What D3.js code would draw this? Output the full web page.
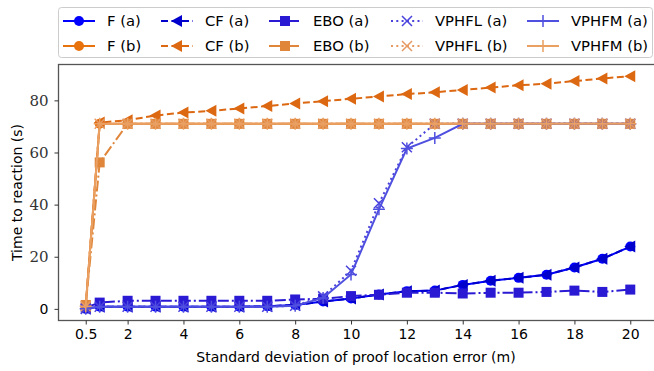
<!DOCTYPE html>
<html>
<meta charset="utf-8">
<style type="text/css">
	body { margin: 0; background: #fff; }
	text { font-family: "DejaVu Sans", sans-serif; font-size: 14px; fill: #000; }
	.legend text { font-size: 14.8px; }
</style>
<svg width="654" height="371"></svg>
<script src="https://d3js.org/d3.v7.min.js"></script>
<script>
	// x positions: proof location error std (m)
	var sigma = [0.5, 1, 2, 3, 4, 5, 6, 7, 8, 9, 10, 11, 12, 13, 14, 15, 16, 17, 18, 19, 20];

	var fA     = [0, 0.8, 0.8, 0.8, 0.8, 0.8, 0.8, 1.0, 1.5, 2.8, 4.0, 5.5, 6.8, 7.0, 9.2, 10.8, 11.9, 13.1, 15.9, 19.2, 23.9];
	var fB     = [1, 71, 71, 71, 71, 71, 71, 71, 71, 71, 71, 71, 71, 71, 71, 71, 71, 71, 71, 71, 71];
	var cfA    = [0, 0.8, 0.8, 0.8, 0.8, 0.8, 0.8, 1.0, 1.5, 2.8, 4.0, 5.5, 6.8, 7.0, 9.2, 10.8, 11.9, 13.1, 15.9, 19.2, 23.9];
	var cfB    = [1, 71.5, 72.4, 74.2, 75.3, 76.0, 76.9, 77.8, 78.8, 79.7, 80.6, 81.5, 82.4, 83.1, 84.0, 84.9, 85.8, 86.4, 87.4, 88.4, 89.3];
	var eboA   = [0.5, 2.4, 3.1, 3.1, 3.1, 3.1, 3.1, 3.1, 3.6, 3.9, 4.9, 5.4, 6.2, 6.2, 5.9, 6.2, 6.2, 6.5, 7.0, 6.5, 7.4];
	var eboB   = [1.5, 56.2, 71, 71, 71, 71, 71, 71, 71, 71, 71, 71, 71, 71, 71, 71, 71, 71, 71, 71, 71];
	var vphflA = [0, 0.8, 0.8, 0.8, 0.8, 0.8, 0.8, 0.8, 1.2, 4.8, 14.6, 40.5, 62.0, 71, 71, 71, 71, 71, 71, 71, 71];
	var vphflB = [1, 71, 71, 71, 71, 71, 71, 71, 71, 71, 71, 71, 71, 71, 71, 71, 71, 71, 71, 71, 71];
	var vphfmA = [0, 0.8, 0.8, 0.8, 0.8, 0.8, 0.8, 0.8, 1.2, 4.2, 13.2, 38.2, 61.5, 65.6, 71, 71, 71, 71, 71, 71, 71];
	var vphfmB = [1, 71, 71, 71, 71, 71, 71, 71, 71, 71, 71, 71, 71, 71, 71, 71, 71, 71, 71, 71, 71];

	var xTicks = [0.5, 2, 4, 6, 8, 10, 12, 14, 16, 18, 20];
	var yTicks = [0, 20, 40, 60, 80];

	// plotting order follows the legend (column-wise)
	var series = [
		{name: 'F (a)',     values: fA,     color: '#0000ff', dash: null,        marker: 'circle'},
		{name: 'F (b)',     values: fB,     color: '#e8720c', dash: null,        marker: 'circle'},
		{name: 'CF (a)',    values: cfA,    color: '#0000cc', dash: '7,3.5',     marker: 'tri'},
		{name: 'CF (b)',    values: cfB,    color: '#dc6812', dash: '7,3.5',     marker: 'tri'},
		{name: 'EBO (a)',   values: eboA,   color: '#2a1ad4', dash: '11,3,2,3',  marker: 'square'},
		{name: 'EBO (b)',   values: eboB,   color: '#e0863a', dash: '11,3,2,3',  marker: 'square'},
		{name: 'VPHFL (a)', values: vphflA, color: '#4a42dc', dash: '2,3.3',     marker: 'x'},
		{name: 'VPHFL (b)', values: vphflB, color: '#e69a62', dash: '2,3.3',     marker: 'x'},
		{name: 'VPHFM (a)', values: vphfmA, color: '#5050e0', dash: null,        marker: 'plus'},
		{name: 'VPHFM (b)', values: vphfmB, color: '#e9a062', dash: null,        marker: 'plus'}
	];

	var svg = d3.select('svg'),
			pLeft = 58.5, pRight = 657.5, pTop = 64.5, pBottom = 320.5;

	var x = d3.scaleLinear().domain([-0.475, 20.975]).range([pLeft, pRight]);
	var y = d3.scaleLinear().domain([-4.465, 93.765]).range([pBottom, pTop]);

	function drawMarker(g, type, color, cx, cy) {
		if (type === 'circle') {
			g.append('circle').attr('cx', cx).attr('cy', cy).attr('r', 5).attr('fill', color);
		} else if (type === 'square') {
			g.append('rect').attr('x', cx - 5).attr('y', cy - 5).attr('width', 10).attr('height', 10).attr('fill', color);
		} else if (type === 'tri') {
			g.append('path').attr('d', 'M' + (cx - 6) + ',' + cy + 'L' + (cx + 5) + ',' + (cy - 6) + 'L' + (cx + 5) + ',' + (cy + 6) + 'Z')
				.attr('fill', color);
		} else if (type === 'x') {
			g.append('path').attr('d', 'M' + (cx - 5) + ',' + (cy - 5) + 'L' + (cx + 5) + ',' + (cy + 5) + 'M' + (cx - 5) + ',' + (cy + 5) + 'L' + (cx + 5) + ',' + (cy - 5))
				.attr('stroke', color).attr('stroke-width', 1.5).attr('fill', 'none');
		} else if (type === 'plus') {
			g.append('path').attr('d', 'M' + (cx - 6) + ',' + cy + 'L' + (cx + 6) + ',' + cy + 'M' + cx + ',' + (cy - 6) + 'L' + cx + ',' + (cy + 6))
				.attr('stroke', color).attr('stroke-width', 1.5).attr('fill', 'none');
		}
	}

	svg.append('clipPath').attr('id', 'clip')
		.append('rect').attr('x', pLeft).attr('y', pTop).attr('width', pRight - pLeft).attr('height', pBottom - pTop);

	var plot = svg.append('g').attr('clip-path', 'url(#clip)');

	var line = d3.line()
			.x((d, i) => x(sigma[i]))
			.y((d) => y(d));

	series.forEach((s) => {
		var g = plot.append('g');
		g.append('path')
			.attr('d', line(s.values))
			.attr('fill', 'none')
			.attr('stroke', s.color)
			.attr('stroke-width', 2)
			.attr('stroke-dasharray', s.dash);
		s.values.forEach((v, i) => drawMarker(g, s.marker, s.color, x(sigma[i]), y(v)));
	});

	// frame
	svg.append('rect')
		.attr('x', pLeft).attr('y', pTop).attr('width', pRight - pLeft).attr('height', pBottom - pTop)
		.attr('fill', 'none').attr('stroke', '#555').attr('stroke-width', 1.3);

	// x axis
	var xAxis = svg.append('g').attr('transform', 'translate(0,' + pBottom + ')')
		.call(d3.axisBottom(x).tickValues(xTicks).tickSize(4).tickPadding(5).tickFormat((d) => d));
	xAxis.select('.domain').remove();
	xAxis.selectAll('text').style('font-size', '14px').style('font-family', '"DejaVu Sans", sans-serif');
	xAxis.selectAll('line').attr('stroke', '#333');

	// y axis (the reference shows 20..80 in a serif face, 0 in sans)
	var yAxis = svg.append('g').attr('transform', 'translate(' + pLeft + ',0)')
		.call(d3.axisLeft(y).tickValues(yTicks).tickSize(4).tickPadding(6));
	yAxis.select('.domain').remove();
	yAxis.selectAll('line').attr('stroke', '#333');
	yAxis.selectAll('text')
		.style('font-size', (d) => d === 0 ? '14px' : '15px')
		.style('font-family', (d) => d === 0 ? '"DejaVu Sans", sans-serif' : '"DejaVu Serif", serif')
		.style('fill', (d) => d === 0 ? '#000' : '#333');

	svg.append('text')
		.attr('x', 356)
		.attr('y', 362)
		.attr('text-anchor', 'middle')
		.text('Standard deviation of proof location error (m)');

	svg.append('text')
		.attr('transform', 'translate(22,' + ((pTop + pBottom) / 2) + ') rotate(-90)')
		.attr('text-anchor', 'middle')
		.text('Time to reaction (s)');

	// legend
	var legend = svg.append('g').attr('class', 'legend');
	legend.append('rect')
		.attr('x', 58.5).attr('y', 7.5).attr('width', 594).attr('height', 50).attr('rx', 3)
		.attr('fill', '#fff').attr('stroke', '#ccc');

	var colX = [63, 161, 269, 391, 527];
	var rowY = [21, 46];
	series.forEach((s, i) => {
		var cx = colX[Math.floor(i / 2)], cy = rowY[i % 2];
		var g = legend.append('g');
		g.append('line')
			.attr('x1', cx).attr('x2', cx + 32).attr('y1', cy).attr('y2', cy)
			.attr('stroke', s.color).attr('stroke-width', 2)
			.attr('stroke-dasharray', s.dash);
		drawMarker(g, s.marker, s.color, cx + 16, cy);
		g.append('text')
			.attr('x', cx + 44).attr('y', cy).attr('dy', '0.35em')
			.text(s.name);
	});
</script>
</html>
